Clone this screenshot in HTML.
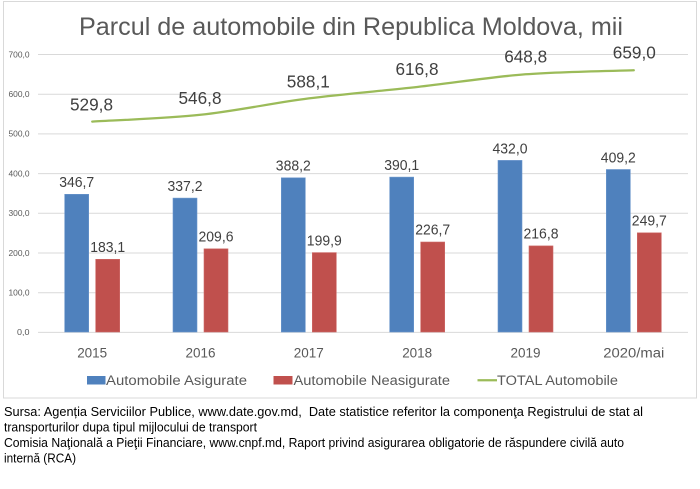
<!DOCTYPE html>
<html>
<head>
<meta charset="utf-8">
<style>
  html,body{margin:0;padding:0;background:#fff;}
  body{width:700px;height:489px;overflow:hidden;}
  svg{display:block;}
  text{font-family:"Liberation Sans", sans-serif;}
</style>
</head>
<body>
<svg width="700" height="489" viewBox="0 0 700 489" xmlns="http://www.w3.org/2000/svg">
  <rect x="0" y="0" width="700" height="489" fill="#ffffff"/>
  <rect x="3.5" y="1.5" width="693" height="396.5" fill="#ffffff" stroke="#d9d9d9" stroke-width="1"/>

  <!-- Title -->
  <text x="79" y="35" font-size="25" fill="#595959" textLength="544" lengthAdjust="spacingAndGlyphs">Parcul de automobile din Republica Moldova, mii</text>

  <!-- Gridlines -->
  <g stroke="#d9d9d9" stroke-width="1">
    <line x1="38" y1="54.5" x2="688" y2="54.5"/>
    <line x1="38" y1="94.2" x2="688" y2="94.2"/>
    <line x1="38" y1="133.9" x2="688" y2="133.9"/>
    <line x1="38" y1="173.6" x2="688" y2="173.6"/>
    <line x1="38" y1="213.3" x2="688" y2="213.3"/>
    <line x1="38" y1="253.0" x2="688" y2="253.0"/>
    <line x1="38" y1="292.7" x2="688" y2="292.7"/>
    <line x1="38" y1="332.4" x2="688" y2="332.4"/>
  </g>

  <!-- Y axis labels -->
  <g font-size="8.5" fill="#595959" text-anchor="end">
    <text x="29.5" y="57.3" textLength="21" lengthAdjust="spacingAndGlyphs">700,0</text>
    <text x="29.5" y="97" textLength="21" lengthAdjust="spacingAndGlyphs">600,0</text>
    <text x="29.5" y="136.7" textLength="21" lengthAdjust="spacingAndGlyphs">500,0</text>
    <text x="29.5" y="176.4" textLength="21" lengthAdjust="spacingAndGlyphs">400,0</text>
    <text x="29.5" y="216.1" textLength="21" lengthAdjust="spacingAndGlyphs">300,0</text>
    <text x="29.5" y="255.8" textLength="21" lengthAdjust="spacingAndGlyphs">200,0</text>
    <text x="29.5" y="295.5" textLength="21" lengthAdjust="spacingAndGlyphs">100,0</text>
    <text x="29.5" y="335.2" textLength="12.5" lengthAdjust="spacingAndGlyphs">0,0</text>
  </g>

  <!-- Blue bars -->
  <g fill="#4f81bd" stroke="#6b96cc" stroke-width="0.6">
    <rect x="64.7" y="194.3" width="24" height="137.7"/>
    <rect x="173" y="198.1" width="24" height="133.9"/>
    <rect x="281.3" y="177.8" width="24" height="154.2"/>
    <rect x="389.7" y="177.1" width="24" height="154.9"/>
    <rect x="498" y="160.4" width="24" height="171.6"/>
    <rect x="606.3" y="169.5" width="24" height="162.5"/>
  </g>
  <!-- Red bars -->
  <g fill="#c0504d" stroke="#cf6c69" stroke-width="0.6">
    <rect x="95.7" y="259.3" width="24" height="72.7"/>
    <rect x="204" y="248.8" width="24" height="83.2"/>
    <rect x="312.3" y="252.6" width="24" height="79.4"/>
    <rect x="420.7" y="242.0" width="24" height="90"/>
    <rect x="529" y="245.9" width="24" height="86.1"/>
    <rect x="637.3" y="232.8" width="24" height="99.2"/>
  </g>

  <!-- Bar labels -->
  <g font-size="14.5" fill="#404040" text-anchor="middle">
    <text x="76.7" y="187.2" textLength="35" lengthAdjust="spacingAndGlyphs">346,7</text>
    <text x="185" y="191" textLength="35" lengthAdjust="spacingAndGlyphs">337,2</text>
    <text x="293.3" y="170.7" textLength="35" lengthAdjust="spacingAndGlyphs">388,2</text>
    <text x="401.7" y="170" textLength="35" lengthAdjust="spacingAndGlyphs">390,1</text>
    <text x="510" y="153.3" textLength="35" lengthAdjust="spacingAndGlyphs">432,0</text>
    <text x="618.3" y="162.4" textLength="35" lengthAdjust="spacingAndGlyphs">409,2</text>

    <text x="107.7" y="252" textLength="35" lengthAdjust="spacingAndGlyphs">183,1</text>
    <text x="216" y="241.5" textLength="35" lengthAdjust="spacingAndGlyphs">209,6</text>
    <text x="324.3" y="245.3" textLength="35" lengthAdjust="spacingAndGlyphs">199,9</text>
    <text x="432.7" y="234.7" textLength="35" lengthAdjust="spacingAndGlyphs">226,7</text>
    <text x="541" y="238.6" textLength="35" lengthAdjust="spacingAndGlyphs">216,8</text>
    <text x="649.3" y="225.5" textLength="35" lengthAdjust="spacingAndGlyphs">249,7</text>
  </g>

  <!-- Total line (smoothed) -->
  <path d="M92.2,121.6 C110.25,120.47 164.4,118.67 200.5,114.8 C236.6,110.93 272.68,103.03 308.8,98.4 C344.92,93.77 381.08,91.02 417.2,87.0 C453.32,82.98 489.4,77.08 525.5,74.3 C561.6,71.52 615.75,70.97 633.8,70.3"
        fill="none" stroke="#9bbb59" stroke-width="2.25" stroke-linecap="round"/>

  <!-- Line labels -->
  <g font-size="17.5" fill="#404040" text-anchor="middle">
    <text x="91.5" y="110.6" textLength="43" lengthAdjust="spacingAndGlyphs">529,8</text>
    <text x="200" y="104" textLength="43" lengthAdjust="spacingAndGlyphs">546,8</text>
    <text x="308.3" y="87.5" textLength="43" lengthAdjust="spacingAndGlyphs">588,1</text>
    <text x="417" y="75" textLength="43" lengthAdjust="spacingAndGlyphs">616,8</text>
    <text x="525.7" y="62.5" textLength="43" lengthAdjust="spacingAndGlyphs">648,8</text>
    <text x="634.3" y="58.7" textLength="43" lengthAdjust="spacingAndGlyphs">659,0</text>
  </g>

  <!-- Category labels -->
  <g font-size="13.5" fill="#595959" text-anchor="middle">
    <text x="92.2" y="357.6" textLength="30" lengthAdjust="spacingAndGlyphs">2015</text>
    <text x="200.5" y="357.6" textLength="30" lengthAdjust="spacingAndGlyphs">2016</text>
    <text x="308.8" y="357.6" textLength="30" lengthAdjust="spacingAndGlyphs">2017</text>
    <text x="417.2" y="357.6" textLength="30" lengthAdjust="spacingAndGlyphs">2018</text>
    <text x="525.5" y="357.6" textLength="30" lengthAdjust="spacingAndGlyphs">2019</text>
    <text x="633.8" y="357.6" textLength="61" lengthAdjust="spacingAndGlyphs">2020/mai</text>
  </g>

  <!-- Legend -->
  <rect x="87" y="376" width="18.5" height="8.5" fill="#4f81bd"/>
  <text x="106" y="385" font-size="13.5" fill="#595959" textLength="141" lengthAdjust="spacingAndGlyphs">Automobile Asigurate</text>
  <rect x="273.5" y="376" width="19" height="8.5" fill="#c0504d"/>
  <text x="293.5" y="385" font-size="13.5" fill="#595959" textLength="156.5" lengthAdjust="spacingAndGlyphs">Automobile Neasigurate</text>
  <line x1="477.5" y1="380.2" x2="497" y2="380.2" stroke="#9bbb59" stroke-width="2.25"/>
  <text x="497" y="385" font-size="13.5" fill="#595959" textLength="121" lengthAdjust="spacingAndGlyphs">TOTAL Automobile</text>

  <!-- Source text -->
  <g font-size="13" fill="#000000">
    <text x="4" y="415.8" textLength="639" lengthAdjust="spacingAndGlyphs">Sursa: Agenția Serviciilor Publice, www.date.gov.md,&#160; Date statistice referitor la componenţa Registrului de stat al</text>
    <text x="4" y="431.4" textLength="253" lengthAdjust="spacingAndGlyphs">transporturilor dupa tipul mijlocului de transport</text>
    <text x="4" y="447" textLength="620" lengthAdjust="spacingAndGlyphs">Comisia Naţională a Pieţii Financiare, www.cnpf.md, Raport privind asigurarea obligatorie de răspundere civilă auto</text>
    <text x="4" y="462.6" textLength="72" lengthAdjust="spacingAndGlyphs">internă (RCA)</text>
  </g>
</svg>
</body>
</html>
